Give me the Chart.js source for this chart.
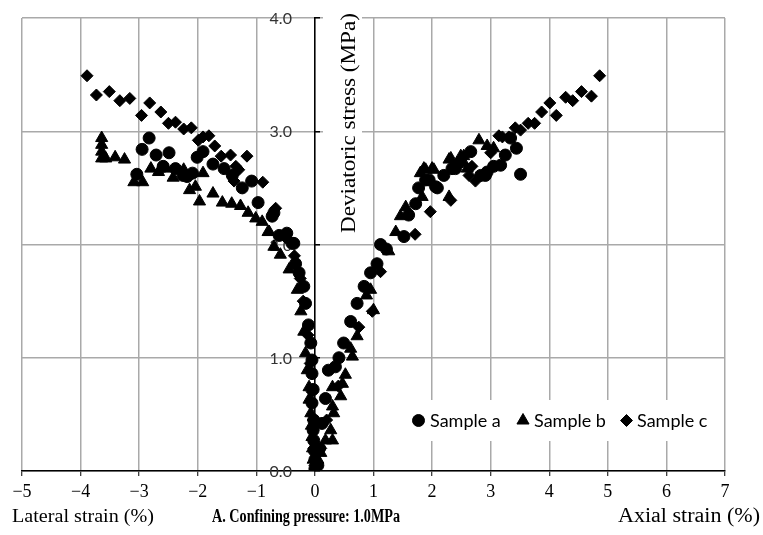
<!DOCTYPE html>
<html>
<head>
<meta charset="utf-8">
<script src="https://cdn.jsdelivr.net/npm/chart.js@4/dist/chart.umd.min.js"></script>
<style>
html,body{margin:0;padding:0;background:#fff;}
#wrap{width:763px;height:535px;}
</style>
</head>
<body>
<div id="wrap"><canvas id="c" width="763" height="535"></canvas></div>
<script>
// ---- data (strain %, deviatoric stress MPa); negative strain = lateral, positive = axial ----
const seriesNames = ['Sample a', 'Sample b', 'Sample c'];
const xTicks = [-5, -4, -3, -2, -1, 0, 1, 2, 3, 4, 5, 6, 7];
const yTicks = [0, 1, 2, 3, 4];

const sampleA_strain = [-2.95,-2.83,-3.04,-2.71,-2.59,-2.49,-2.38,-2.25,-2.18,-2.09,-2.01,-1.91,-1.74,-1.55,-1.41,-1.24,-1.08,-0.97,-0.73,-0.70,-0.61,-0.48,-0.39,-0.36,-0.33,-0.27,-0.19,-0.16,-0.11,-0.07,-0.05,-0.05,-0.03,-0.05,-0.02,-0.03,-0.02,-0.01,0.00,0.00,
  0.05,0.08,0.12,0.18,0.23,0.35,0.41,0.49,0.61,0.72,0.84,0.95,1.06,1.12,1.22,1.52,1.60,1.72,1.77,1.89,1.95,2.06,2.09,2.20,2.34,2.40,2.49,2.66,2.83,2.91,2.94,3.05,3.17,3.25,3.34,3.44,3.51];
const sampleA_stress = [2.84,2.94,2.62,2.79,2.69,2.81,2.67,2.61,2.60,2.63,2.77,2.82,2.71,2.67,2.61,2.50,2.56,2.37,2.25,2.28,2.08,2.10,2.01,2.01,1.83,1.75,1.63,1.48,1.29,1.13,0.98,0.86,0.72,0.60,0.45,0.36,0.27,0.18,0.10,0.02,
  0.05,0.20,0.42,0.64,0.89,0.92,1.00,1.13,1.32,1.48,1.63,1.75,1.83,2.00,1.96,2.07,2.26,2.36,2.50,2.57,2.57,2.51,2.50,2.61,2.67,2.67,2.73,2.82,2.61,2.61,2.64,2.69,2.70,2.79,2.94,2.85,2.62];

const sampleB_strain = [-3.64,-3.64,-3.64,-3.64,-3.57,-3.41,-3.25,-3.09,-2.94,-2.80,-2.67,-2.54,-2.42,-2.24,-2.14,-2.04,-1.97,-1.91,-1.74,-1.58,-1.42,-1.27,-1.14,-1.01,-0.90,-0.80,-0.78,-0.70,-0.59,-0.44,-0.30,-0.24,-0.19,-0.16,-0.13,-0.10,-0.10,-0.07,-0.06,-0.05,-0.04,-0.03,0.00,
  0.05,0.10,0.18,0.27,0.30,0.32,0.30,0.44,0.30,0.47,0.52,0.64,0.61,0.72,0.88,0.95,1.00,1.26,1.38,1.46,1.55,1.83,1.80,1.89,2.03,1.86,2.00,2.29,2.32,2.49,2.54,2.60,2.80,2.94,3.05,2.29];
const sampleB_stress = [2.94,2.88,2.82,2.76,2.76,2.77,2.75,2.55,2.55,2.67,2.64,2.67,2.59,2.66,2.48,2.51,2.38,2.63,2.45,2.37,2.36,2.34,2.28,2.23,2.20,2.11,2.11,1.98,1.91,1.78,1.60,1.41,1.23,1.04,0.89,0.74,0.63,0.51,0.40,0.30,0.20,0.10,0.03,
  0.10,0.16,0.27,0.36,0.27,0.51,0.57,0.66,0.74,0.77,0.85,1.01,1.08,1.19,1.55,1.60,1.42,1.94,2.11,2.25,2.33,2.42,2.63,2.66,2.66,2.67,2.67,2.75,2.76,2.78,2.78,2.67,2.92,2.87,2.85,2.42];

const sampleC_strain = [-3.89,-3.73,-3.51,-3.33,-3.16,-2.96,-2.82,-2.63,-2.50,-2.38,-2.24,-2.11,-1.99,-1.91,-1.81,-1.71,-1.60,-1.44,-1.35,-1.30,-1.38,-1.16,-0.89,-0.67,-0.50,-0.35,-0.25,-0.20,-0.12,-0.08,-0.05,-0.03,-0.02,0.00,
  0.10,0.20,0.40,0.75,0.98,1.12,1.71,1.97,2.32,2.63,2.68,2.74,3.00,3.14,3.20,3.31,3.42,3.51,3.64,3.75,3.87,4.01,4.12,4.28,4.40,4.55,4.72,4.86];
const sampleC_stress = [3.49,3.32,3.35,3.27,3.29,3.14,3.25,3.17,3.07,3.08,3.02,3.03,2.92,2.95,2.96,2.87,2.78,2.79,2.69,2.66,2.56,2.78,2.55,2.32,2.06,1.90,1.70,1.50,1.20,0.95,0.70,0.45,0.20,0.05,
  0.20,0.45,0.75,1.27,1.41,1.76,2.09,2.29,2.39,2.61,2.69,2.56,2.81,2.96,2.95,2.95,3.03,3.01,3.07,3.07,3.17,3.25,3.14,3.30,3.27,3.35,3.31,3.49];

const toPts = (xs, ys) => xs.map((x, i) => ({x: x, y: ys[i]}));

// y tick labels drawn from the y scale's own ticks (left of the centred axis), under the markers
const yLabelPlugin = {
  id: 'yLabels',
  beforeDatasetsDraw(chart) {
    const ctx = chart.ctx, ys = chart.scales.y, xs = chart.scales.x;
    const ax = xs.getPixelForValue(0);
    ctx.save();
    ctx.font = '16px Lato';
    ctx.fillStyle = '#333';
    ctx.textAlign = 'right';
    ctx.textBaseline = 'middle';
    ys.ticks.forEach(t => {
      ctx.fillText(Number(t.value).toFixed(1), ax - 23, ys.getPixelForValue(t.value) + 1);
    });
    ctx.restore();
  }
};

const legendPlugin = {
  id: 'customLegend',
  afterDraw(chart) {
    const ctx = chart.ctx;
    ctx.save();
    ctx.fillStyle = '#fff';
    ctx.fillRect(408, 400, 306, 41);
    const items = [
      {mx: 418.5, tx: 430, style: 'circle', r: 6},
      {mx: 523, tx: 534, style: 'triangle', r: 7},
      {mx: 626.5, tx: 637, style: 'rectRot', r: 6}
    ];
    items.forEach((it, i) => {
      ctx.fillStyle = '#000'; ctx.strokeStyle = '#000'; ctx.lineWidth = 1;
      Chart.helpers.drawPoint(ctx, {pointStyle: it.style, radius: it.r, borderWidth: 1}, it.mx, 420.5);
      ctx.font = '18px Lato';
      ctx.textBaseline = 'middle';
      ctx.textAlign = 'left';
      ctx.fillStyle = '#000';
      ctx.fillText(seriesNames[i], it.tx, 421);
    });
    ctx.restore();
  }
};

function fitText(ctx, text, font, x, y, width) {
  ctx.font = font;
  const w = ctx.measureText(text).width;
  ctx.save();
  ctx.translate(x, y);
  ctx.scale(width / w, 1);
  ctx.fillText(text, 0, 0);
  ctx.restore();
}

const textPlugin = {
  id: 'texts',
  afterDraw(chart) {
    const ctx = chart.ctx;
    ctx.save();
    ctx.fillStyle = '#000';
    ctx.textBaseline = 'alphabetic';
    ctx.textAlign = 'left';
    fitText(ctx, 'Lateral strain (%)', '18px "Liberation Serif"', 12, 522, 142);
    fitText(ctx, 'A. Confining pressure: 1.0MPa', 'bold 18px "Liberation Serif"', 212, 522, 188);
    fitText(ctx, 'Axial strain (%)', '20px "Liberation Serif"', 618, 522, 142);
    // y-axis title
    ctx.fillStyle = '#fff';
    ctx.fillRect(323, 8, 39, 230);
    ctx.fillStyle = '#000';
    ctx.translate(355, 233);
    ctx.rotate(-Math.PI / 2);
    fitText(ctx, 'Deviatoric stress (MPa)', '21px "Liberation Serif"', 0, 0, 220);
    ctx.restore();
  }
};

const gridColor = '#a9a9a9';

new Chart(document.getElementById('c'), {
  type: 'scatter',
  data: {
    datasets: [
      {label: seriesNames[0], data: toPts(sampleA_strain, sampleA_stress), pointStyle: 'circle', pointRadius: 6, backgroundColor: '#000', borderColor: '#000', borderWidth: 1},
      {label: seriesNames[1], data: toPts(sampleB_strain, sampleB_stress), pointStyle: 'triangle', pointRadius: 7, backgroundColor: '#000', borderColor: '#000', borderWidth: 1},
      {label: seriesNames[2], data: toPts(sampleC_strain, sampleC_stress), pointStyle: 'rectRot', pointRadius: 6, backgroundColor: '#000', borderColor: '#000', borderWidth: 1}
    ]
  },
  options: {
    responsive: false,
    animation: false,
    devicePixelRatio: 1,
    events: [],
    layout: {padding: {left: 22, right: 38, top: 18, bottom: 0}},
    plugins: {legend: {display: false}, tooltip: {enabled: false}, title: {display: false}},
    scales: {
      x: {
        type: 'linear', min: xTicks[0], max: xTicks[xTicks.length - 1],
        afterBuildTicks: s => { s.ticks = xTicks.map(v => ({value: v})); },
        afterFit: s => { s.height = 64; s.paddingLeft = 0; s.paddingRight = 0; },
        ticks: {
          font: {family: '"Liberation Serif"', size: 18}, color: '#000', padding: 5, maxRotation: 0,
          callback: v => (v < 0 ? '\u2212' + Math.abs(v) : String(v))
        },
        grid: {color: gridColor, lineWidth: 1.5, tickColor: '#000', tickLength: 5, tickWidth: 1},
        border: {color: '#000', width: 1.5}
      },
      y: {
        type: 'linear', min: yTicks[0], max: yTicks[yTicks.length - 1],
        position: {x: 0},
        afterBuildTicks: s => { s.ticks = yTicks.map(v => ({value: v})); },
        afterFit: s => { s.paddingTop = 0; s.paddingBottom = 0; s.width = 0; },
        ticks: {display: false},
        grid: {color: gridColor, lineWidth: 1.5, tickColor: '#000', tickLength: -6, tickWidth: 1.5},
        border: {color: '#000', width: 1.5}
      }
    }
  },
  plugins: [yLabelPlugin, legendPlugin, textPlugin]
});
</script>
</body>
</html>
